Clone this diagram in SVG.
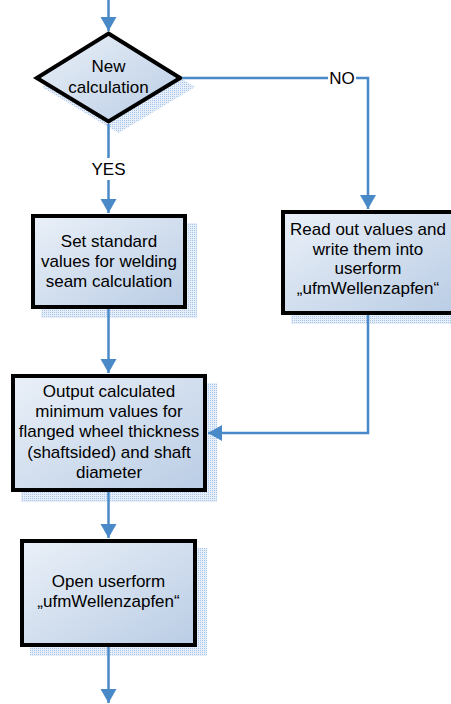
<svg xmlns="http://www.w3.org/2000/svg" width="451" height="704" viewBox="0 0 451 704">
<style>
.node{fill:url(#g);stroke:#000;stroke-width:4;stroke-linejoin:miter}
.sh{fill:url(#hatch)}
.t{font-family:"Liberation Sans",Arial,sans-serif;font-size:17px;fill:#000;text-anchor:middle}
.c{fill:none;stroke:#4a89c8;stroke-width:2.5}
.lb{fill:#fff}
</style>
<defs>
<linearGradient id="g" x1="0" y1="0" x2="1" y2="1">
<stop offset="0" stop-color="#eaf0f8"/>
<stop offset="1" stop-color="#bacde5"/>
</linearGradient>
<pattern id="hatch" width="2" height="2" patternUnits="userSpaceOnUse">
<rect width="2" height="2" fill="#e6eefa"/>
<rect width="1" height="1" fill="#a8c5ea"/>
</pattern>
<marker id="arr" markerUnits="userSpaceOnUse" markerWidth="15" markerHeight="17" refX="14" refY="8" orient="auto" viewBox="0 0 15 17">
<path d="M0,0 L14,8 L0,16 z" fill="#4a89c8"/>
</marker>
</defs>
<rect width="451" height="704" fill="#fff"/>

<g id="decision">
<polygon class="sh" points="118.5,40 195,87 118.5,133 42,87"/>
<polygon class="node" points="108.5,33.5 180.2,78 108.5,121.5 36.8,78"/>
<text class="t" x="108.5" y="72">New</text>
<text class="t" x="108.5" y="93">calculation</text>
</g>

<g id="box1">
<rect class="sh" x="41" y="223" width="156" height="95"/>
<rect class="node" x="33" y="216" width="152" height="91"/>
<text class="t" x="109" y="247">Set standard</text>
<text class="t" x="109" y="267">values for welding</text>
<text class="t" x="109" y="287">seam calculation</text>
</g>

<g id="box2">
<rect class="sh" x="291" y="219" width="170" height="105"/>
<rect class="node" x="283" y="212" width="170" height="101"/>
<text class="t" x="368" y="235">Read out values and</text>
<text class="t" x="368" y="254.5">write them into</text>
<text class="t" x="368" y="274">userform</text>
<text class="t" x="368" y="293.5">„ufmWellenzapfen“</text>
</g>

<g id="box3">
<rect class="sh" x="21" y="383" width="196" height="119"/>
<rect class="node" x="13" y="376" width="192" height="114"/>
<text class="t" x="109" y="397">Output calculated</text>
<text class="t" x="109" y="417">minimum values for</text>
<text class="t" x="109" y="437">flanged wheel thickness</text>
<text class="t" x="109" y="457.5">(shaftsided) and shaft</text>
<text class="t" x="109" y="478">diameter</text>
</g>

<g id="box4">
<rect class="sh" x="30" y="548" width="177" height="108"/>
<rect class="node" x="22" y="541" width="173" height="104"/>
<text class="t" x="108.5" y="587">Open userform</text>
<text class="t" x="108.5" y="607">„ufmWellenzapfen“</text>
</g>

<g id="connectors">
<path class="c" d="M108.5,0 V31" marker-end="url(#arr)"/>
<path class="c" d="M108.5,124 V213" marker-end="url(#arr)"/>
<rect class="lb" x="88" y="158" width="41" height="22"/>
<text class="t" x="108.5" y="175">YES</text>
<path class="c" d="M182,78 H368 V209" marker-end="url(#arr)"/>
<rect class="lb" x="328" y="68" width="28" height="20"/>
<text class="t" x="342" y="84">NO</text>
<path class="c" d="M108.5,309 V373" marker-end="url(#arr)"/>
<path class="c" d="M368,315 V433 H208" marker-end="url(#arr)"/>
<path class="c" d="M108.5,492 V538" marker-end="url(#arr)"/>
<path class="c" d="M108.5,647 V703" marker-end="url(#arr)"/>
</g>
</svg>
